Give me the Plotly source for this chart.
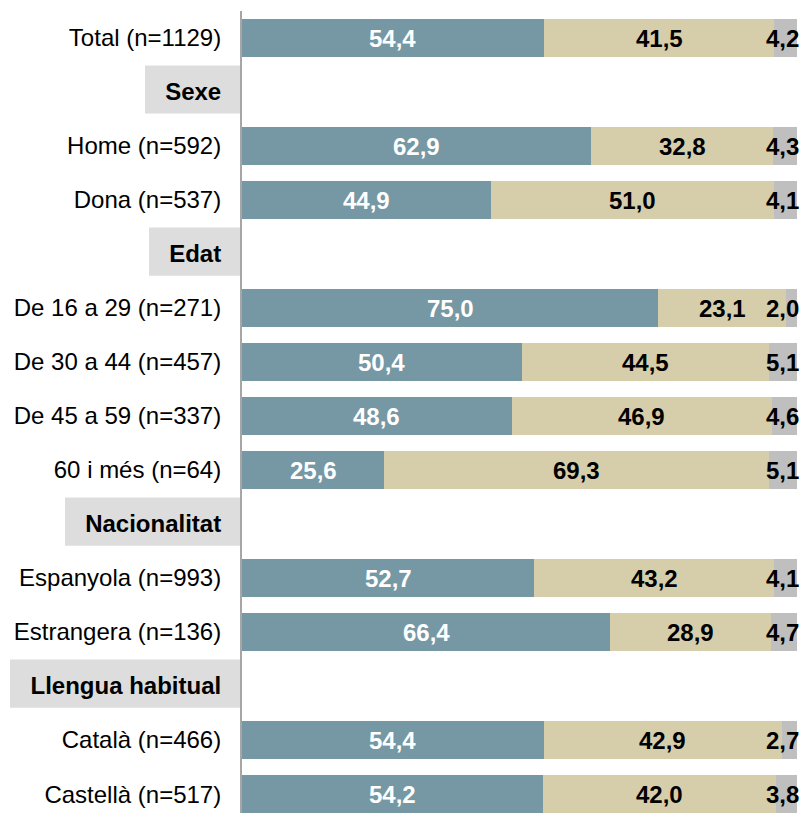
import plotly.graph_objects as go

labels = ["Total (n=1129)", "Sexe", "Home (n=592)", "Dona (n=537)", "Edat",
          "De 16 a 29 (n=271)", "De 30 a 44 (n=457)", "De 45 a 59 (n=337)", "60 i més (n=64)",
          "Nacionalitat", "Espanyola (n=993)", "Estrangera (n=136)",
          "Llengua habitual", "Català (n=466)", "Castellà (n=517)"]
headers = ["Sexe", "Edat", "Nacionalitat", "Llengua habitual"]
serie1 = [54.4, None, 62.9, 44.9, None, 75.0, 50.4, 48.6, 25.6, None, 52.7, 66.4, None, 54.4, 54.2]
serie2 = [41.5, None, 32.8, 51.0, None, 23.1, 44.5, 46.9, 69.3, None, 43.2, 28.9, None, 42.9, 42.0]
serie3 = [4.2, None, 4.3, 4.1, None, 2.0, 5.1, 4.6, 5.1, None, 4.1, 4.7, None, 2.7, 3.8]

C1, C2, C3 = "#7598A4", "#D6CDAB", "#BFBFBF"
FONT = "Liberation Sans, Arial, sans-serif"
FS = 24

ys = list(range(len(labels)))
fig = go.Figure()
for vals, col in [(serie1, C1), (serie2, C2), (serie3, C3)]:
    fig.add_trace(go.Bar(x=vals, y=ys, orientation="h", marker=dict(color=col, line=dict(width=0)),
                         width=0.7, showlegend=False, hoverinfo="skip"))

fmt = lambda v: f"{v:.1f}".replace(".", ",")
ann = []
for i, (a, b, c) in enumerate(zip(serie1, serie2, serie3)):
    if a is None:
        continue
    ann.append(dict(x=a / 2, y=i, text=f"<b>{fmt(a)}</b>", showarrow=False,
                    font=dict(color="white", size=FS, family=FONT)))
    ann.append(dict(x=a + b / 2, y=i, text=f"<b>{fmt(b)}</b>", showarrow=False,
                    font=dict(color="black", size=FS, family=FONT)))
    ann.append(dict(x=a + b + c, y=i, text=f"<b>{fmt(c)}</b>", showarrow=False, xanchor="right",
                    xshift=4, font=dict(color="black", size=FS, family=FONT)))

box_left = {"Sexe": -97, "Edat": -93, "Nacionalitat": -177, "Llengua habitual": -232}
shapes = []
for i, lab in enumerate(labels):
    if lab in headers:
        shapes.append(dict(type="rect", xref="paper", yref="y", xsizemode="pixel", xanchor=0,
                           x0=box_left[lab], x1=-2, y0=i - 0.49, y1=i + 0.40,
                           fillcolor="#DDDDDD", line=dict(width=0), layer="below"))

ticktext = [f"<b>{l}</b>" if l in headers else l for l in labels]

fig.update_layout(
    width=812, height=813, barmode="stack", bargap=0.3,
    margin=dict(l=242, r=14, t=11, b=0),
    plot_bgcolor="white", paper_bgcolor="white",
    xaxis=dict(range=[0, 100.2], visible=False, fixedrange=True),
    yaxis=dict(range=[14.35, -0.5], tickvals=ys, ticktext=ticktext, showgrid=False, zeroline=False,
               showline=True, linecolor="#A6A6A6", linewidth=2, ticks="", ticklabelstandoff=14,
               tickfont=dict(size=FS, family=FONT, color="black")),
    annotations=ann, shapes=shapes,
)
fig.write_html("out.html", config={"displayModeBar": False},
               post_script="document.body.style.margin='0';document.body.style.overflow='hidden';")
